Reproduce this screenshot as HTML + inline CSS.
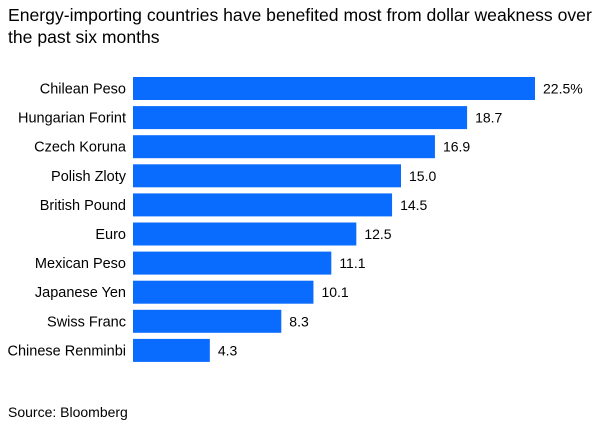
<!DOCTYPE html>
<html><head><meta charset="utf-8"><style>
body{margin:0;background:#fff;width:607px;height:430px;overflow:hidden;font-family:"Liberation Sans",sans-serif;}
</style></head><body>
<svg width="607" height="430" style="display:block">
<text x="8" y="21" font-size="17.6" fill="#000">Energy-importing countries have benefited most from dollar weakness over</text>
<text x="8" y="43" font-size="17.6" fill="#000">the past six months</text>
<g id="bars"></g>
<text x="8" y="417" font-size="14" fill="#000">Source: Bloomberg</text>
</svg>
<script>
const categories=["Chilean Peso","Hungarian Forint","Czech Koruna","Polish Zloty","British Pound","Euro","Mexican Peso","Japanese Yen","Swiss Franc","Chinese Renminbi"];
const values=[22.5,18.7,16.9,15.0,14.5,12.5,11.1,10.1,8.3,4.3];
const valueLabels=["22.5%","18.7","16.9","15.0","14.5","12.5","11.1","10.1","8.3","4.3"];
const x0=133,pxPer=402/22.5,y0=77,step=29.1,bh=23;
const xs=v=>x0+v*pxPer, ys=i=>y0+i*step;
const g=document.getElementById('bars'),NS="http://www.w3.org/2000/svg";
categories.forEach((c,i)=>{
 const r=document.createElementNS(NS,'rect');
 r.setAttribute('x',x0);r.setAttribute('y',ys(i));r.setAttribute('width',xs(values[i])-x0);r.setAttribute('height',bh);r.setAttribute('fill','#0a6cff');
 
 
 g.appendChild(r);
 const t=document.createElementNS(NS,'text');
 t.setAttribute('x',126);t.setAttribute('y',ys(i)+bh/2+5);t.setAttribute('text-anchor','end');t.setAttribute('font-size','14.5');t.textContent=c;
 
 
 g.appendChild(t);
 const v=document.createElementNS(NS,'text');
 v.setAttribute('x',xs(values[i])+8);v.setAttribute('y',ys(i)+bh/2+5);v.setAttribute('font-size','14');v.textContent=valueLabels[i];
 
 
 g.appendChild(v);
});
</script>
</body></html>
